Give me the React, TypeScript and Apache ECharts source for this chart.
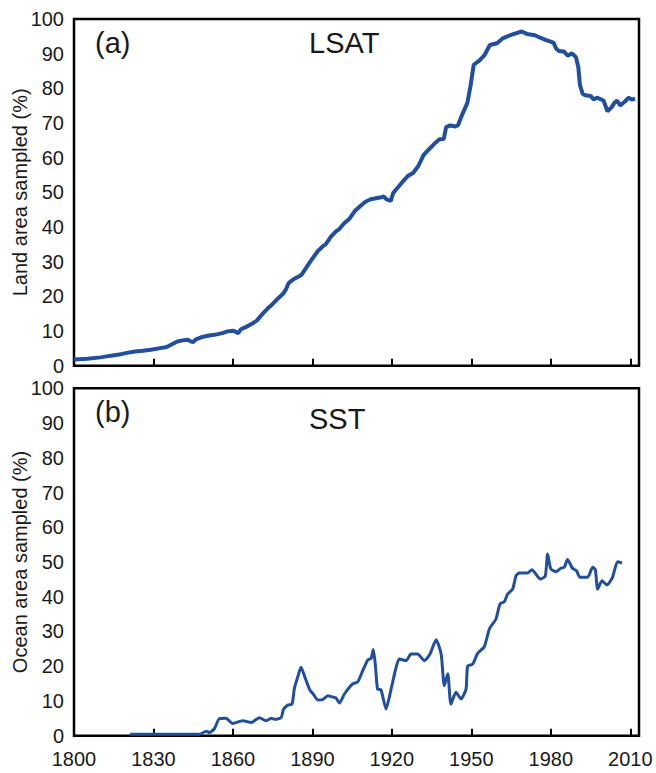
import React, { useEffect, useRef } from "react";
import * as echarts from "echarts";

const lsatYears = [
  1800, 1805, 1810, 1814, 1817, 1820, 1823, 1826, 1829, 1832, 1835, 1837, 1839, 1841, 1843, 1844, 1845, 1846,
  1848, 1851, 1853, 1856, 1858, 1860, 1861, 1862, 1863, 1865, 1867, 1869, 1871, 1873, 1875, 1877, 1879, 1880,
  1881, 1883, 1885, 1886, 1887, 1889, 1890, 1892, 1894, 1895, 1897, 1899, 1900, 1902, 1904, 1906, 1908, 1910,
  1912, 1914, 1916, 1917, 1918, 1919.6, 1920.5, 1922, 1924, 1926, 1928, 1930, 1932, 1934, 1936, 1938, 1939.6,
  1940.5, 1942, 1944, 1945, 1946.6, 1948.5, 1949.7, 1950.9, 1953, 1955, 1957, 1959.7, 1962, 1965, 1969, 1971,
  1974, 1976, 1978, 1981, 1982, 1983, 1985, 1986.4, 1988, 1989.5, 1990.4, 1991, 1992, 1993, 1995, 1996.2,
  1997.4, 1999.9, 2001.4, 2003, 2004, 2005, 2006.2, 2008, 2009.4, 2010.6, 2011.8,
];
const lsatValues = [
  1.8, 2.0, 2.4, 2.9, 3.2, 3.7, 4.1, 4.3, 4.6, 5.0, 5.4, 6.2, 7.0, 7.3, 7.5, 7.0, 6.8, 7.6,
  8.2, 8.7, 8.9, 9.4, 9.9, 10.1, 9.8, 9.4, 10.5, 11.2, 12.0, 13.0, 14.8, 16.4, 17.8, 19.4, 20.8, 22.0,
  23.8, 25.0, 25.8, 26.3, 27.5, 29.8, 30.9, 33.0, 34.5, 35.0, 37.2, 38.8, 39.3, 41.1, 42.4, 44.6, 46.0, 47.3,
  48.0, 48.3, 48.6, 48.8, 48.0, 47.5, 49.8, 51.2, 53.0, 54.7, 55.6, 57.6, 60.8, 62.4, 64.0, 65.3, 65.4,
  68.8, 69.3, 69.0, 69.4, 72.5, 75.8, 80.7, 86.8, 88.0, 89.6, 92.5, 93.0, 94.5, 95.4, 96.4, 95.7,
  95.3, 94.6, 94.0, 93.2, 91.5, 90.8, 90.6, 89.4, 90.1, 89.0, 86.0, 81.0, 78.5, 78.0, 77.8, 76.8,
  77.3, 76.5, 73.4, 74.6, 75.8, 76.5, 75.1, 76.2, 77.3, 76.8, 77.0,
];

const sstYears = [
  1821.2, 1847.4, 1849.9, 1851.1, 1853, 1854.9, 1857.4, 1859.9, 1863.7, 1866.9, 1870, 1872.5, 1874.6, 1875.9,
  1878.2, 1879.1, 1880.7, 1882.3, 1883.2, 1884.5, 1885.7, 1887.2, 1889, 1890.5, 1892, 1893.9, 1895.8, 1897.7,
  1898.9, 1900.2, 1902.1, 1905.2, 1907.1, 1909, 1910.9, 1912.2, 1913, 1913.8, 1914.6, 1915.9, 1917.8, 1919.7,
  1921.6, 1922.8, 1925.4, 1927.2, 1929.7, 1932.3, 1934.4, 1936.7, 1938.6, 1939.8, 1941.1, 1942.3, 1944.2,
  1946.1, 1948, 1948.6, 1950.5, 1952.4, 1954.9, 1956.8, 1959.3, 1960.8, 1962.5, 1963.7, 1965.6, 1966.9,
  1968.1, 1971.2, 1972.9, 1974.4, 1976, 1977.9, 1978.8, 1980, 1982, 1983.8, 1985.1, 1986.3, 1988.2, 1989.7,
  1991, 1993.9, 1995.8, 1996.8, 1997.7, 1999.3, 2001.2, 2003.3, 2005.2, 2006.9,
];
const sstValues = [
  0.4, 0.4, 1.3, 0.9, 2.0, 4.9, 5.0, 3.5, 4.3, 3.8, 5.2, 4.3, 5.0, 4.7,
  5.2, 7.6, 8.8, 9.1, 13.6, 17.0, 19.7, 16.8, 13.2, 11.8, 10.3, 10.4, 11.5, 11.1,
  10.9, 9.4, 12.0, 14.9, 15.5, 18.7, 21.8, 22.3, 24.8, 20.1, 13.4, 13.2, 7.7, 13.4,
  19.7, 22.1, 21.6, 23.5, 23.5, 21.6, 23.5, 27.6, 23.5, 14.4, 17.8, 9.1, 12.5,
  10.6, 13.4, 20.0, 20.6, 23.7, 25.6, 30.7, 33.6, 37.9, 38.6, 40.8, 42.2, 46.1,
  46.8, 46.8, 47.8, 46.5, 45.1, 45.9, 52.3, 48.0, 47.2, 48.2, 48.5, 50.7, 48.2, 47.5,
  45.6, 45.6, 48.5, 47.8, 42.2, 44.6, 43.4, 45.6, 50.1, 49.7,
];

const xMin = 1800;
const xMax = 2013.3;
const xInterval = 30;
const yMin = 0;
const yMax = 100;
const yInterval = 10;
const panelLabels = ["(a)", "(b)"];
const panelTitles = ["LSAT", "SST"];
const yNames = ["Land area sampled (%)", "Ocean area sampled (%)"];

const FONT = "'Liberation Sans', Arial, Helvetica, sans-serif";
const TEXT = "#1a1a1a";
const LINE = "#1f4f9e";

export default function App() {
  const ref = useRef<HTMLDivElement>(null);
  useEffect(() => {
    if (!ref.current) return;
    const chart = echarts.init(ref.current, null, { renderer: "svg" });
    const grids = [
      { left: 74, top: 19, right: 17, height: 346.7 },
      { left: 74, top: 388.3, right: 17, height: 347.4 },
    ];
    const xAxes = [0, 1].map((i) => ({
      type: "value",
      gridIndex: i,
      min: xMin,
      max: xMax,
      interval: xInterval,
      axisLine: { show: false },
      axisTick: { show: true, inside: true, length: 7, lineStyle: { color: "#000", width: 2 } },
      splitLine: { show: false },
      axisLabel: {
        show: i === 1,
        showMaxLabel: false,
        fontSize: 20,
        fontFamily: FONT,
        color: TEXT,
        margin: 13,
        formatter: (v: number) => (Math.abs(v % xInterval) < 1e-6 ? String(v) : ""),
      },
    }));
    const yAxes = [0, 1].map((i) => ({
      type: "value",
      gridIndex: i,
      min: yMin,
      max: yMax,
      interval: yInterval,
      axisLine: { show: false },
      axisTick: { show: false },
      splitLine: { show: false },
      axisLabel: { fontSize: 20, fontFamily: FONT, color: TEXT, margin: 10 },
      name: yNames[i],
      nameLocation: "middle",
      nameGap: 44,
      nameMoveOverlap: false,
      nameTextStyle: { fontSize: 20, fontFamily: FONT, color: TEXT },
    }));
    chart.setOption({
      animation: false,
      grid: grids.map((g) => ({
        ...g,
        show: true,
        containLabel: false,
        outerBoundsMode: "none",
        borderColor: "#000",
        borderWidth: 2.5,
        backgroundColor: "transparent",
      })),
      xAxis: xAxes,
      yAxis: yAxes,
      series: [
        {
          type: "line",
          xAxisIndex: 0,
          yAxisIndex: 0,
          data: lsatYears.map((y, k) => [y, lsatValues[k]]),
          showSymbol: false,
          lineStyle: { color: LINE, width: 4 },
        },
        {
          type: "line",
          xAxisIndex: 1,
          yAxisIndex: 1,
          data: sstYears.map((y, k) => [y, sstValues[k]]),
          showSymbol: false,
          smooth: 0.2,
          lineStyle: { color: LINE, width: 3 },
        },
      ],
      graphic: [
        { type: "text", x: 95, y: 43, style: { text: panelLabels[0], font: `29px ${FONT}`, fill: TEXT, verticalAlign: "middle" } },
        { type: "text", x: 309, y: 43, style: { text: panelTitles[0], font: `29px ${FONT}`, fill: TEXT, verticalAlign: "middle" } },
        { type: "text", x: 95, y: 412, style: { text: panelLabels[1], font: `29px ${FONT}`, fill: TEXT, verticalAlign: "middle" } },
        { type: "text", x: 309, y: 419, style: { text: panelTitles[1], font: `29px ${FONT}`, fill: TEXT, verticalAlign: "middle" } },
      ],
    });
    return () => chart.dispose();
  }, []);
  return <div ref={ref} style={{ position: "fixed", left: 0, top: 0, width: 656, height: 773, background: "#fff" }} />;
}
